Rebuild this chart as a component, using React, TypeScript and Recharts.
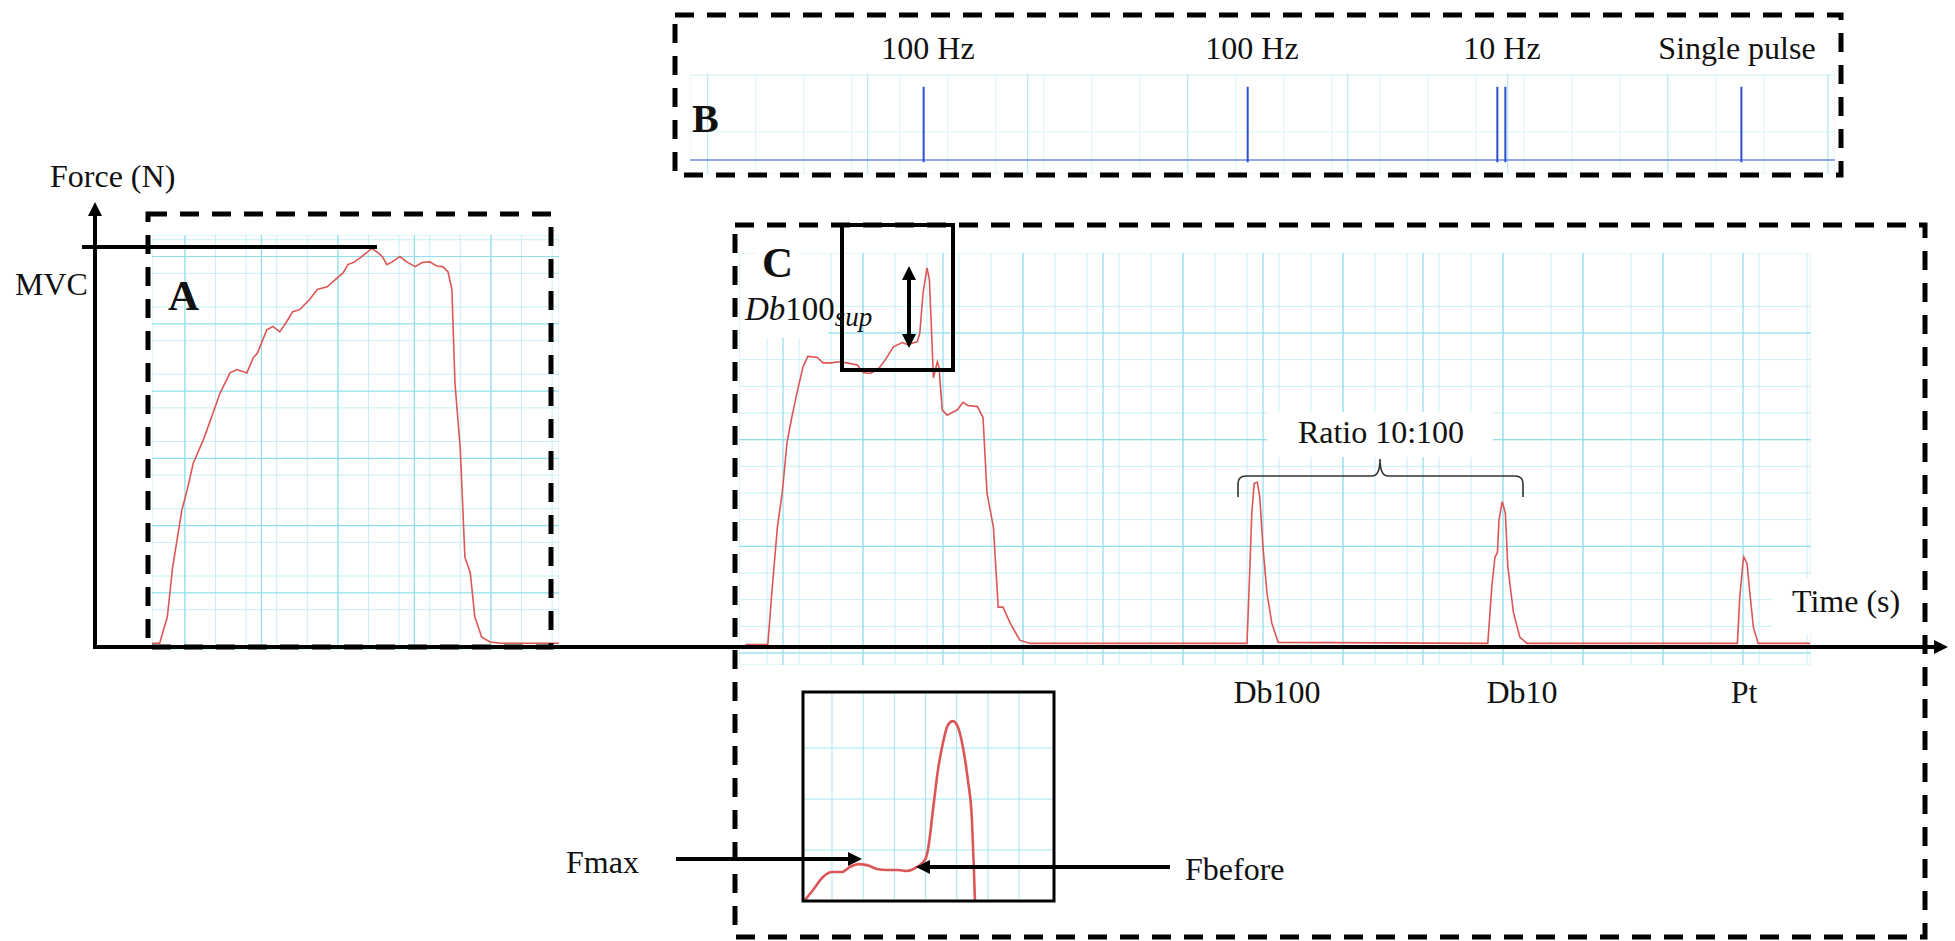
import React from 'react';
import { LineChart, Line, XAxis, YAxis, CartesianGrid, ReferenceLine } from 'recharts';

// A: maximal voluntary contraction (time in s, force in N)
const aTime = [0.57, 0.67, 0.77, 0.84, 0.96, 1.03, 1.11, 1.24, 1.37, 1.46, 1.59, 1.68, 1.81, 1.89, 1.95, 2.07, 2.15, 2.24, 2.33, 2.41, 2.5, 2.63, 2.73, 2.86, 2.94, 3.07, 3.13, 3.2, 3.29, 3.38, 3.44, 3.52, 3.58, 3.64, 3.71, 3.81, 3.9, 4.01, 4.1, 4.2, 4.29, 4.37, 4.44, 4.49, 4.53, 4.6, 4.66, 4.73, 4.79, 4.88, 4.99, 5.12, 5.89];
const aForce = [25, 25, 64, 138, 223, 253, 293, 327, 368, 397, 427, 432, 427, 449, 457, 491, 496, 488, 503, 518, 521, 536, 551, 555, 563, 576, 588, 591, 598, 606, 612, 606, 600, 588, 592, 600, 592, 585, 591, 592, 586, 585, 577, 551, 412, 313, 153, 130, 64, 34, 27, 25, 25];

// C: contraction with superimposed doublet, then resting twitches
const cTime = [0.53, 0.81, 0.86, 0.93, 0.99, 1.05, 1.11, 1.19, 1.25, 1.31, 1.43, 1.5, 1.61, 1.69, 1.8, 1.93, 2.0, 2.09, 2.19, 2.28, 2.38, 2.49, 2.56, 2.68, 2.71, 2.75, 2.8, 2.83, 2.86, 2.88, 2.93, 2.95, 2.99, 3.05, 3.18, 3.25, 3.31, 3.43, 3.5, 3.55, 3.63, 3.69, 3.75, 3.84, 3.96, 4.09, 6.8, 6.83, 6.86, 6.89, 6.93, 6.96, 7.0, 7.05, 7.11, 7.19, 9.81, 9.86, 9.9, 9.93, 9.95, 9.99, 10.03, 10.06, 10.13, 10.21, 10.3, 12.93, 12.96, 13.0, 13.01, 13.05, 13.09, 13.13, 13.19, 13.84];
const cForce = [8, 8, 56, 118, 150, 197, 221, 249, 268, 278, 277, 272, 272, 273, 272, 270, 263, 262, 266, 275, 287, 291, 289, 292, 300, 337, 361, 350, 296, 258, 273, 268, 228, 223, 228, 235, 232, 231, 221, 150, 118, 43, 43, 28, 12, 9, 9, 68, 131, 159, 160, 146, 99, 56, 28, 10, 9, 62, 90, 94, 125, 142, 131, 81, 38, 15, 9, 9, 53, 85, 90, 84, 53, 24, 9, 9];

// B: stimulation pulses, same time base as C
const pulseTimes = [2.76, 6.81, 9.93, 10.03, 12.98];
const pulseAmp = 2.6;
const stimLabels = ['100 Hz', '100 Hz', '10 Hz', 'Single pulse'];

// inset: zoom on the superimposed doublet (time in ms, force in N)
const insetTime = [6.7, 19.6, 35.6, 50, 66, 78.8, 91.7, 106.1, 122.1, 138.1, 155.8, 170.2, 186.2, 199, 203.8, 211.9, 219.9, 227.9, 235.9, 243.9, 251.9, 259.9, 267.9, 274.4, 277.6, 279.2];
const insetForce = [0.5, 5.4, 11.8, 14.2, 14.2, 16.7, 18.1, 17.6, 15.7, 15.2, 15.2, 14.7, 16.7, 20.1, 25, 44.6, 64.2, 77.5, 86.3, 88.2, 85.3, 75.5, 59.3, 39.7, 15.2, 0.5];

const twitchLabels = ['Db100', 'Db10', 'Pt'];

const steps = (from: number, to: number, step: number) => {
  const out: number[] = [];
  for (let v = from; v <= to + 1e-9; v += step) out.push(Math.round(v * 1000) / 1000);
  return out;
};

const FONT = "'Liberation Serif', 'Times New Roman', serif";
const RED = '#dd5656';

type PanelProps = {
  left: number;
  top: number;
  width: number;
  height: number;
  xDomain: [number, number];
  yDomain: [number, number];
  xTicks: number[];
  yTicks: number[];
  xMajor: number[];
  yMajor: number[];
  minor: string;
  major: string;
  children?: React.ReactNode;
};

const Panel = ({ left, top, width, height, xDomain, yDomain, xTicks, yTicks, xMajor, yMajor, minor, major, children }: PanelProps) => (
  <div style={{ position: 'absolute', left, top }}>
    <LineChart width={width} height={height} margin={{ top: 0, right: 0, bottom: 0, left: 0 }}>
      <CartesianGrid stroke={minor} strokeWidth={1} />
      <XAxis type="number" dataKey="x" domain={xDomain} ticks={xTicks} hide allowDataOverflow />
      <YAxis type="number" dataKey="y" domain={yDomain} ticks={yTicks} hide allowDataOverflow />
      {xMajor.map(v => <ReferenceLine key={'vx' + v} x={v} stroke={major} strokeWidth={1.2} />)}
      {yMajor.map(v => <ReferenceLine key={'hy' + v} y={v} stroke={major} strokeWidth={1.2} />)}
      {children}
    </LineChart>
  </div>
);

const Arrow = ({ x, y, dir }: { x: number; y: number; dir: 'up' | 'down' | 'left' | 'right' }) => {
  const L = 14, W = 7;
  let pts = '';
  if (dir === 'up') pts = `${x},${y} ${x - W},${y + L} ${x + W},${y + L}`;
  if (dir === 'down') pts = `${x},${y} ${x - W},${y - L} ${x + W},${y - L}`;
  if (dir === 'right') pts = `${x},${y} ${x - L},${y - W} ${x - L},${y + W}`;
  if (dir === 'left') pts = `${x},${y} ${x + L},${y - W} ${x + L},${y + W}`;
  return <polygon points={pts} fill="#000" />;
};

const T = (props: any) => <text fontFamily={FONT} fontSize={32} fill="#111" {...props} />;

export default function App() {
  const aData = aTime.map((x, i) => ({ x, y: aForce[i] }));
  const cData = cTime.map((x, i) => ({ x, y: cForce[i] }));
  const insetData = insetTime.map((x, i) => ({ x, y: insetForce[i] }));
  const stimBase = [{ x: -0.16, y: 0 }, { x: 14.15, y: 0 }];
  const stimData = pulseTimes.flatMap(p => [
    { x: p, y: 0 },
    { x: p, y: pulseAmp },
    { x: p, y: -0.08 },
    { x: p + 0.0001, y: null },
  ]);

  const dash = { fill: 'none', stroke: '#000', strokeWidth: 5, strokeDasharray: '19 13' };
  const labelX = [928, 1252, 1502, 1737];
  const twitchX = [1277, 1522, 1744];

  return (
    <div style={{ position: 'absolute', left: 0, top: 0, width: 1955, height: 941, background: '#fff', overflow: 'hidden' }}>
      {/* A */}
      <Panel left={152} top={235} width={407} height={415} xDomain={[0.57, 5.89]} yDomain={[15, 632]}
        xTicks={steps(0.6, 5.8, 0.2)} yTicks={steps(25, 625, 25)} xMajor={steps(1, 5, 1)} yMajor={steps(100, 600, 100)}
        minor="#c6f0f5" major="#8fe0ea">
        <Line data={aData} dataKey="y" type="linear" stroke={RED} strokeWidth={1.6} dot={false} activeDot={false} isAnimationActive={false} />
      </Panel>

      {/* C */}
      <Panel left={739} top={253} width={1072} height={412} xDomain={[0.45, 13.85]} yDomain={[-11.25, 375]}
        xTicks={steps(0.6, 13.8, 0.2)} yTicks={steps(0, 375, 25)} xMajor={steps(1, 13, 1)} yMajor={steps(0, 300, 100)}
        minor="#c6f0f5" major="#8fe0ea">
        <Line data={cData} dataKey="y" type="linear" stroke={RED} strokeWidth={1.6} dot={false} activeDot={false} isAnimationActive={false} />
      </Panel>

      {/* B */}
      <Panel left={690} top={74} width={1145} height={100} xDomain={[-0.16, 14.15]} yDomain={[-0.5, 3.05]}
        xTicks={steps(-0.14, 14.06, 0.2)} yTicks={steps(0, 3, 1)} xMajor={steps(0.06, 14.06, 2)} yMajor={[]}
        minor="#dcf5f8" major="#b5ebf1">
        <Line data={stimBase} dataKey="y" type="linear" stroke="#6f8fdc" strokeWidth={1.5} dot={false} activeDot={false} isAnimationActive={false} />
        <Line data={stimData} dataKey="y" type="linear" stroke="#2c4fcf" strokeWidth={2} dot={false} activeDot={false} connectNulls={false} isAnimationActive={false} />
      </Panel>

      {/* inset */}
      <Panel left={803} top={692} width={251} height={209} xDomain={[3.5, 406]} yDomain={[0, 102.5]}
        xTicks={steps(50, 350, 50)} yTicks={steps(25, 75, 25)} xMajor={[]} yMajor={[]}
        minor="#a3e7ef" major="#a3e7ef">
        <Line data={insetData} dataKey="y" type="monotone" stroke={RED} strokeWidth={2.6} dot={false} activeDot={false} isAnimationActive={false} />
      </Panel>

      <svg width={1955} height={941} style={{ position: 'absolute', left: 0, top: 0 }}>
        {/* label backgrounds */}
        <rect x={1267} y={412} width={226} height={45} fill="#fff" />
        <rect x={740} y={282} width={88} height={56} fill="#fff" />
        <rect x={756} y={244} width={44} height={38} fill="#fff" />
        <rect x={1773} y={578} width={40} height={56} fill="#fff" />

        {/* dashed panel frames */}
        <rect x={148} y={214} width={403} height={433} {...dash} />
        <rect x={675} y={15} width={1166} height={160} {...dash} />
        <rect x={735} y={225} width={1190} height={712} {...dash} />

        {/* main axes */}
        <line x1={95} y1={649} x2={95} y2={212} stroke="#000" strokeWidth={4} />
        <Arrow x={95} y={202} dir="up" />
        <line x1={93} y1={647} x2={1936} y2={647} stroke="#000" strokeWidth={4} />
        <Arrow x={1948} y={647} dir="right" />
        <line x1={82} y1={247} x2={377} y2={247} stroke="#000" strokeWidth={4} />

        {/* Db100sup box and double arrow */}
        <rect x={842} y={225} width={111} height={145} fill="none" stroke="#000" strokeWidth={4} />
        <line x1={909} y1={277} x2={909} y2={337} stroke="#000" strokeWidth={4} />
        <Arrow x={909} y={266} dir="up" />
        <Arrow x={909} y={348} dir="down" />

        {/* inset frame and arrows */}
        <rect x={803} y={692} width={251} height={209} fill="none" stroke="#000" strokeWidth={3} />
        <line x1={676} y1={859} x2={850} y2={859} stroke="#000" strokeWidth={4} />
        <Arrow x={862} y={859} dir="right" />
        <line x1={1170} y1={867} x2={928} y2={867} stroke="#000" strokeWidth={4} />
        <Arrow x={916} y={867} dir="left" />

        {/* ratio bracket */}
        <path d="M1238,497 L1238,484 Q1238,476 1246,476 L1372,476 Q1380,476 1380,459 Q1380,476 1388,476 L1515,476 Q1523,476 1523,484 L1523,497"
          fill="none" stroke="#333" strokeWidth={1.6} />

        {/* texts */}
        <T x={50} y={187}>Force (N)</T>
        <T x={15} y={295}>MVC</T>
        <T x={168} y={310} fontSize={43} fontWeight="bold">A</T>
        <T x={692} y={132} fontSize={40} fontWeight="bold">B</T>
        <T x={762} y={277} fontSize={43} fontWeight="bold">C</T>
        {stimLabels.map((s, i) => (
          <T key={'s' + i} x={labelX[i]} y={59} textAnchor="middle">{s}</T>
        ))}
        <T x={745} y={320} fontSize={33}>
          <tspan fontStyle="italic">Db</tspan>
          <tspan>100</tspan>
          <tspan fontStyle="italic" fontSize={27} dy={6}>sup</tspan>
        </T>
        <T x={1381} y={443} textAnchor="middle">Ratio 10:100</T>
        <T x={1792} y={612}>Time (s)</T>
        {twitchLabels.map((s, i) => (
          <T key={'t' + i} x={twitchX[i]} y={703} textAnchor="middle">{s}</T>
        ))}
        <T x={566} y={873}>Fmax</T>
        <T x={1185} y={880}>Fbefore</T>
      </svg>
    </div>
  );
}
